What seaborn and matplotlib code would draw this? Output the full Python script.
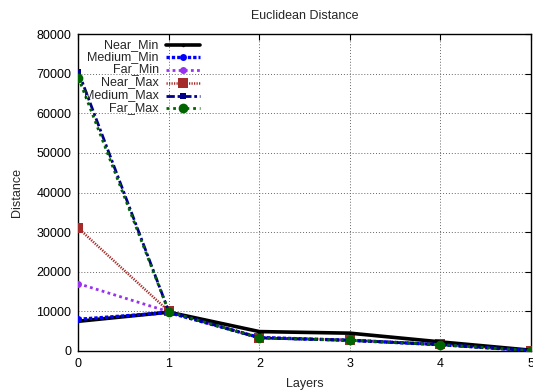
import numpy as np
import pandas as pd
import matplotlib
matplotlib.use("Agg")
import matplotlib.pyplot as plt
import seaborn as sns
from matplotlib.lines import Line2D

layers = [0, 1, 2, 3, 4, 5]
near_min = [7500, 9800, 4900, 4500, 2300, 200]
medium_min = [8000, 9700, 3400, 2700, 1600, 100]
far_min = [17000, 9900, 3300, 2700, 1600, 100]
near_max = [31000, 10000, 3400, 2800, 1700, 100]
medium_max = [70500, 9900, 3300, 2700, 1600, 100]
far_max = [69000, 9900, 3300, 2700, 1600, 100]

series_names = ["Near_Min", "Medium_Min", "Far_Min", "Near_Max", "Medium_Max", "Far_Max"]
series_values = [near_min, medium_min, far_min, near_max, medium_max, far_max]

sns.set_theme(style="white")
plt.rcParams["font.family"] = ["Liberation Sans", "DejaVu Sans"]

styles = {
    "Near_Min":   dict(color="#000000", lw=2.6, ls="-", marker="o", ms=2.5),
    "Medium_Min": dict(color="#0000ff", lw=2.4, ls=(0, (1.0, 0.6)), marker="o", ms=5),
    "Far_Min":    dict(color="#9932f0", lw=2.0, ls=(0, (1.0, 1.2)), marker="o", ms=5),
    "Near_Max":   dict(color="#a52a2a", lw=1.8, ls=(0, (0.5, 0.5)), marker="s", ms=6.5),
    "Medium_Max": dict(color="#00008b", lw=2.0, ls=(0, (3, 1, 1, 1)), marker="s", ms=4),
    "Far_Max":    dict(color="#006400", lw=2.0, ls=(0, (1.0, 1.4)), marker="o", ms=7),
}

fig = plt.figure(figsize=(5.33, 3.92), dpi=100)
ax = fig.add_axes([0.147, 0.1046, 0.849, 0.8086])

order = ["Near_Max", "Far_Min", "Near_Min", "Medium_Min", "Medium_Max", "Far_Max"]
for name in order:
    vals = series_values[series_names.index(name)]
    df = pd.DataFrame({"Layers": layers, "Distance": vals})
    st = styles[name]
    sns.lineplot(data=df, x="Layers", y="Distance", ax=ax, color=st["color"],
                 linewidth=st["lw"], linestyle=st["ls"], marker=st["marker"],
                 markersize=st["ms"], markeredgewidth=0, legend=False, zorder=3)

ax.set_xlim(0, 5)
ax.set_ylim(0, 80000)
ax.set_xticks(range(0, 6))
ax.set_yticks(range(0, 80001, 10000))
ax.tick_params(direction="in", length=4, width=0.8, top=True, right=True,
               labelsize=9, colors="black", pad=5)
ax.grid(True, color="#666666", linestyle=(0, (1, 2)), linewidth=0.7)
for sp in ax.spines.values():
    sp.set_color("black")
    sp.set_linewidth(1.0)

ax.set_xlabel("Layers", fontsize=9, labelpad=6)
ax.set_ylabel("Distance", fontsize=9, labelpad=10)
ax.set_title("Euclidean Distance", fontsize=9, pad=11)

# gnuplot-style key: right-aligned labels with samples to their right
key_x_text = (159 - 78.5) / 452.5
key_x0 = (166 - 78.5) / 452.5
key_x1 = (200 - 78.5) / 452.5
row_y = [45, 57, 69.5, 82.5, 95.5, 108]
for name, py in zip(series_names, row_y):
    y = (351 - py) / 317
    st = styles[name]
    ax.text(key_x_text, y, name, transform=ax.transAxes, ha="right", va="center",
            fontsize=9, zorder=5)
    ax.add_line(Line2D([key_x0, key_x1], [y, y], transform=ax.transAxes,
                       color=st["color"], lw=st["lw"], ls=st["ls"], zorder=5))
    ax.add_line(Line2D([(key_x0 + key_x1) / 2], [y], transform=ax.transAxes,
                       color=st["color"], marker=st["marker"], ms=st["ms"],
                       markeredgewidth=0, zorder=5))

fig.savefig("out.png", dpi=100)
